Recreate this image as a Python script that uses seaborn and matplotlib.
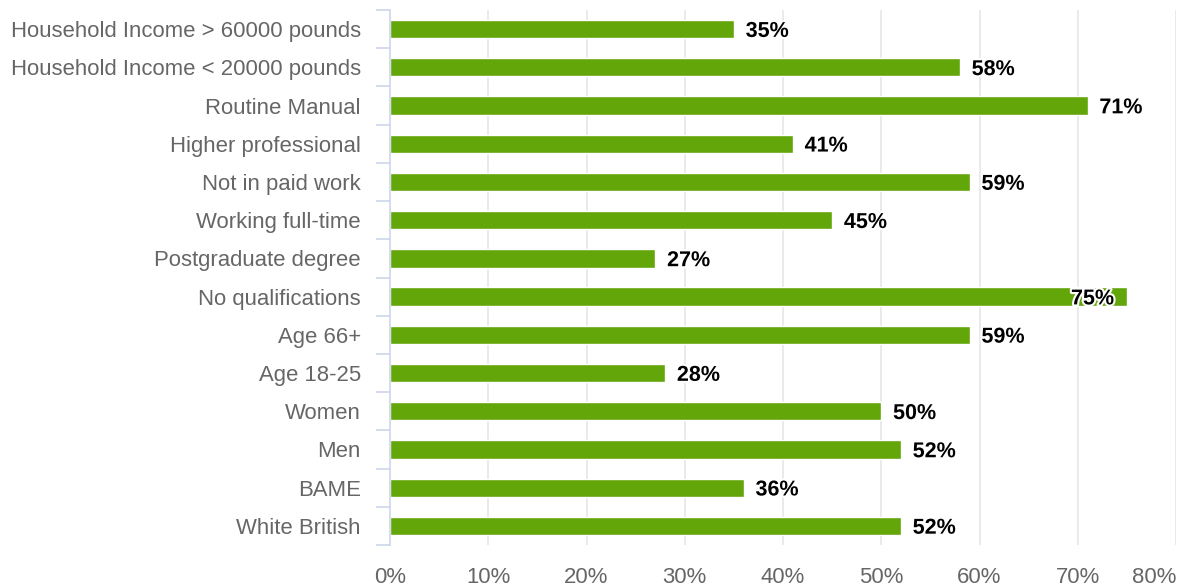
import matplotlib
matplotlib.use("Agg")
import matplotlib.pyplot as plt
import matplotlib.patheffects as pe
from matplotlib.ticker import FixedLocator, FuncFormatter
import numpy as np
import pandas as pd
import seaborn as sns

categories = [
    "Household Income > 60000 pounds",
    "Household Income < 20000 pounds",
    "Routine Manual",
    "Higher professional",
    "Not in paid work",
    "Working full-time",
    "Postgraduate degree",
    "No qualifications",
    "Age 66+",
    "Age 18-25",
    "Women",
    "Men",
    "BAME",
    "White British",
]
values = [35, 58, 71, 41, 59, 45, 27, 75, 59, 28, 50, 52, 36, 52]
x_ticks = [0, 10, 20, 30, 40, 50, 60, 70, 80]

BAR = "#62a60a"
AXIS = "#ccd6eb"
GRID = "#e6e6e6"
LABEL = "#666666"
FS = 15.9
FS_VAL = 15.5

sns.set_theme(style="white")
plt.rcParams["font.family"] = ["Liberation Sans", "DejaVu Sans"]

df = pd.DataFrame({"group": categories, "share": values})

fig = plt.figure(figsize=(11.8, 5.87), dpi=100)
ax = fig.add_axes([390 / 1180, 1 - 545 / 587, (1176 - 390) / 1180, (545 - 10) / 587])

sns.barplot(data=df, x="share", y="group", orient="h", color=BAR,
            saturation=1, width=0.48, ax=ax, zorder=3)

ax.set_xlim(0, 80)
ax.set_ylim(len(categories) - 0.5, -0.5)
ax.set_xlabel("")
ax.set_ylabel("")

# vertical gridlines
for t in x_ticks[1:]:
    ax.axvline(t, color=GRID, lw=1.2, zorder=1)

for s in ["top", "right", "bottom"]:
    ax.spines[s].set_visible(False)
ax.spines["left"].set_color(AXIS)
ax.spines["left"].set_linewidth(1.2)
ax.spines["left"].set_zorder(4)

ax.xaxis.set_major_locator(FixedLocator(x_ticks))
ax.xaxis.set_major_formatter(FuncFormatter(lambda v, p: f"{v:.0f}%"))
ax.tick_params(axis="x", length=0, pad=16, labelsize=FS, labelcolor=LABEL)
ax.get_xticklabels()[-1].set_horizontalalignment("right")
ax.tick_params(axis="y", which="major", length=0, pad=21, labelsize=FS,
               labelcolor=LABEL)
ax.yaxis.set_minor_locator(FixedLocator(np.arange(-0.5, len(categories), 1.0)))
ax.tick_params(axis="y", which="minor", length=10, width=1.2, color=AXIS,
               left=True)

# value labels at bar ends, pulled inside when they would overflow
halo = [pe.withStroke(linewidth=3, foreground="white")]
for i, v in enumerate(values):
    label = f"{v}%"
    y = i + 0.06
    if v + 1.2 + 4.6 > 80:
        ax.text(v - 1.3, y, label, ha="right", va="center", fontsize=FS_VAL,
                fontweight="bold", color="black", path_effects=halo, zorder=5)
    else:
        ax.text(v + 1.2, y, label, ha="left", va="center", fontsize=FS_VAL,
                fontweight="bold", color="black", path_effects=halo, zorder=5)

fig.savefig("out.png", dpi=100, facecolor="white")
